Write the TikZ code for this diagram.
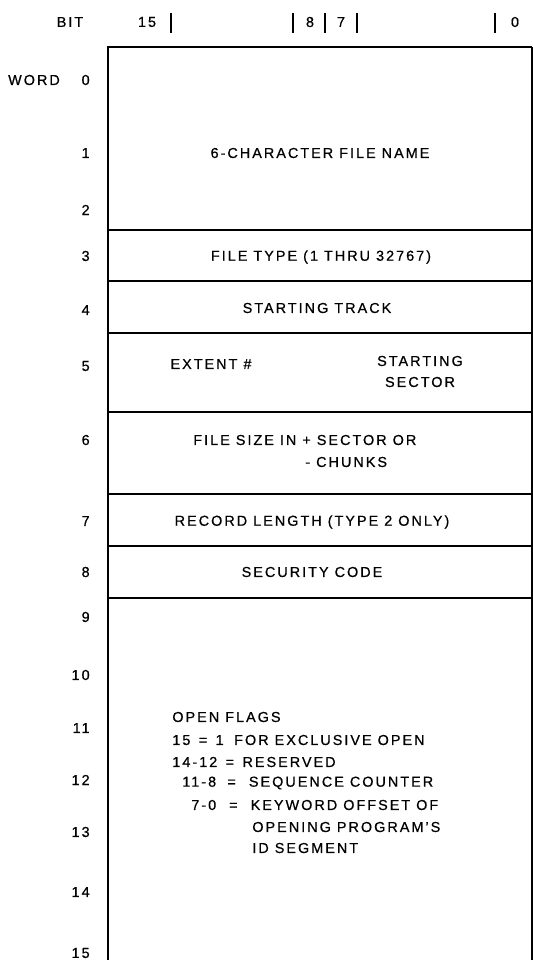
\documentclass[tikz,border=0pt]{standalone}
\usepackage{fontspec}
\setmainfont{Liberation Sans}[LetterSpace=14,FakeBold=0.6]
\usepackage{tikz}
\usetikzlibrary{positioning}

\tikzset{
  frame/.style={line width=1.1pt},
  bitbar/.style={line width=1.2pt},
  lbl/.style={font=\fontsize{8.2}{9}\selectfont,inner sep=0pt},
  num/.style={lbl,anchor=east},
}

\begin{document}
\begin{tikzpicture}[x=0.02cm,y=-0.02cm]
  \useasboundingbox (0,0) rectangle (532,960);
  % bit header
  \node[lbl] (bit) at (70,22) {BIT};
  \node[lbl] (b15) at (147,22) {15};
  \node[lbl] (b8) at (310,22) {8};
  \node[lbl] (b7) at (341,22) {7};
  \node[lbl] (b0) at (515,22) {0};
  \draw[bitbar] (171,13) -- (171,33);
  \draw[bitbar] (293,13) -- (293,33);
  \draw[bitbar] (325,13) -- (325,33);
  \draw[bitbar] (357,13) -- (357,33);
  \draw[bitbar] (495,13) -- (495,33);
  % word frame
  \draw[frame] (532,47) -- (108,47) -- (108,960);
  \draw[frame] (532,47) -- (532,960);
  \draw[frame] (108,230) -- (532,230);
  \draw[frame] (108,281) -- (532,281);
  \draw[frame] (108,333) -- (532,333);
  \draw[frame] (108,412) -- (532,412);
  \draw[frame] (108,494) -- (532,494);
  \draw[frame] (108,546) -- (532,546);
  \draw[frame] (108,598) -- (532,598);
  % word numbers
  \node[lbl] (word) at (34,80) {WORD};
  \foreach \n/\y in {0/80,1/153,2/210,3/256,4/310,5/366,6/440,7/521,8/572}
    \node[num] (w\n) at (90,\y) {\n};
  \foreach \n/\y in {9/617,10/675,11/728,12/780,13/832,14/892,15/953}
    \node[num] (w\n) at (90,\y) {\n};
  % fields
  \node[lbl] (fname) at (320,153) {6-CHARACTER FILE NAME};
  \node[lbl] (ftype) at (321,257) {FILE TYPE (1 THRU 32767)};
  \node[lbl] (track) at (317,308) {STARTING TRACK};
  \node[lbl] (extent) at (211,364) {EXTENT \#};
  \node[lbl] (start) at (420,361) {STARTING};
  \node[lbl] (sector) at (420,382) {SECTOR};
  \node[lbl,anchor=west] (fsize) at (193,440) {FILE SIZE IN + SECTOR OR};
  \node[lbl,anchor=west] (chunks) at (305,462) {- CHUNKS};
  \node[lbl] (reclen) at (312,522) {RECORD LENGTH (TYPE 2 ONLY)};
  \node[lbl] (secur) at (312,572) {SECURITY CODE};
  % open flags
  \node[lbl,anchor=west] (flags) at (172,717) {OPEN FLAGS};
  \node[lbl,anchor=west] (f15) at (172,740) {15 \,=\, 1\hspace{6pt}FOR EXCLUSIVE OPEN};
  \node[lbl,anchor=west] (f14) at (172,762) {14-12 \,=\, RESERVED};
  \node[lbl,anchor=west] (f11) at (182,783) {11-8 \hspace{3pt}=\hspace{4pt} SEQUENCE COUNTER};
  \node[lbl,anchor=west] (f7) at (191,805) {7-0 \hspace{4pt}=\hspace{4pt} KEYWORD OFFSET OF};
  \node[lbl,anchor=west] (f7b) at (252,827) {OPENING PROGRAM'S};
  \node[lbl,anchor=west] (f7c) at (252,848) {ID SEGMENT};
\end{tikzpicture}
\end{document}
